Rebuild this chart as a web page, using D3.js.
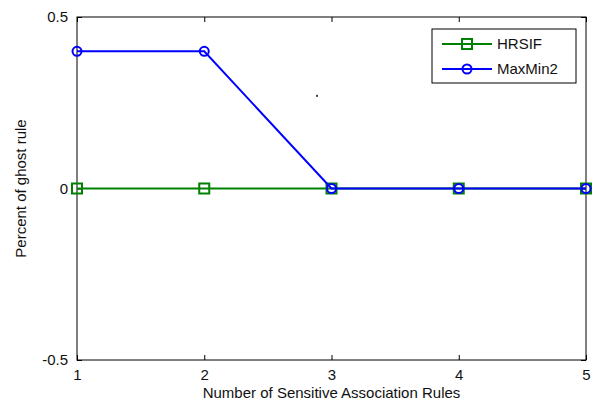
<!DOCTYPE html>
<html><head><meta charset="utf-8">
<script src="https://cdn.jsdelivr.net/npm/d3@7"></script>
<style>body{margin:0;background:#fff}svg{display:block}text{font-family:Arial,"Liberation Sans",sans-serif}</style>
</head><body>
<script>
const categories = [1, 2, 3, 4, 5];
const hrsif = [0, 0, 0, 0, 0];
const maxmin2 = [0.4, 0.4, 0, 0, 0];
const yTicks = [-0.5, 0, 0.5];
const seriesNames = ["HRSIF", "MaxMin2"];

const W = 595, H = 404;
const m = {left: 77, right: 9, top: 17, bottom: 44};
const svg = d3.select("body").append("svg").attr("width", W).attr("height", H);
const x = d3.scaleLinear().domain([1, 5]).range([m.left, W - m.right]);
const y = d3.scaleLinear().domain([-0.5, 0.5]).range([H - m.bottom, m.top]);
const FS = "15px";

const g = svg.append("g");
g.append("rect").attr("x", x(1)).attr("y", y(0.5)).attr("width", x(5) - x(1)).attr("height", y(-0.5) - y(0.5))
  .attr("fill", "#fff").attr("stroke", "#000").attr("stroke-width", 1);

const fmtY = d => d === 0 ? "0" : (d < 0 ? "-" : "") + d3.format(".1f")(Math.abs(d));
const axB = d3.axisBottom(x).tickValues(categories).tickSize(-5).tickPadding(9).tickFormat(d3.format("d"));
const axT = d3.axisTop(x).tickValues(categories).tickSize(-5).tickFormat("");
const axL = d3.axisLeft(y).tickValues(yTicks).tickSize(-5).tickPadding(9).tickFormat(fmtY);
const axR = d3.axisRight(y).tickValues(yTicks).tickSize(-5).tickFormat("");
function style(sel){ sel.select(".domain").remove(); sel.selectAll("line").attr("stroke","#000");
  sel.selectAll("text").attr("fill","#111").style("font-size",FS); }
g.append("g").attr("transform", `translate(0,${y(-0.5)})`).call(axB).call(style);
g.append("g").attr("transform", `translate(0,${y(0.5)})`).call(axT).call(style);
g.append("g").attr("transform", `translate(${x(1)},0)`).call(axL).call(style);
g.append("g").attr("transform", `translate(${x(5)},0)`).call(axR).call(style);

svg.append("text").attr("x", (x(1) + x(5)) / 2).attr("y", 398).attr("text-anchor", "middle")
  .style("font-size", FS).attr("fill", "#111").text("Number of Sensitive Association Rules");
svg.append("text").attr("transform", `translate(26,${(y(0.5) + y(-0.5)) / 2}) rotate(-90)`).attr("text-anchor", "middle")
  .style("font-size", FS).attr("fill", "#111").text("Percent of ghost rule");

svg.append("rect").attr("x", x(2.878)).attr("y", y(0.273)).attr("width", 2).attr("height", 2).attr("fill", "#444");

const line = d3.line().x((d, i) => x(categories[i])).y(d => y(d));
const green = "#008000", blue = "#0000ff";
g.append("path").datum(hrsif).attr("d", line).attr("fill", "none").attr("stroke", green).attr("stroke-width", 2);
g.selectAll(".sq").data(hrsif).join("rect").attr("x", (d, i) => x(categories[i]) - 5).attr("y", d => y(d) - 5)
  .attr("width", 10).attr("height", 10).attr("fill", "none").attr("stroke", green).attr("stroke-width", 2);
g.append("path").datum(maxmin2).attr("d", line).attr("fill", "none").attr("stroke", blue).attr("stroke-width", 2);
g.selectAll(".ci").data(maxmin2).join("circle").attr("cx", (d, i) => x(categories[i])).attr("cy", d => y(d))
  .attr("r", 4.5).attr("fill", "none").attr("stroke", blue).attr("stroke-width", 2);

const lg = svg.append("g").attr("transform", "translate(432,29)");
lg.append("rect").attr("width", 144).attr("height", 54).attr("fill", "#fff").attr("stroke", "#000").attr("stroke-width", 1);
[green, blue].forEach((c, i) => {
  const yy = 15 + i * 25;
  lg.append("line").attr("x1", 10).attr("x2", 60).attr("y1", yy).attr("y2", yy).attr("stroke", c).attr("stroke-width", 2);
  if (i === 0) lg.append("rect").attr("x", 30).attr("y", yy - 5).attr("width", 10).attr("height", 10).attr("fill", "none").attr("stroke", c).attr("stroke-width", 2);
  else lg.append("circle").attr("cx", 35).attr("cy", yy).attr("r", 4.5).attr("fill", "none").attr("stroke", c).attr("stroke-width", 2);
  lg.append("text").attr("x", 65).attr("y", yy + 5).style("font-size", FS).attr("fill", "#111").text(seriesNames[i]);
});
</script>
</body></html>
